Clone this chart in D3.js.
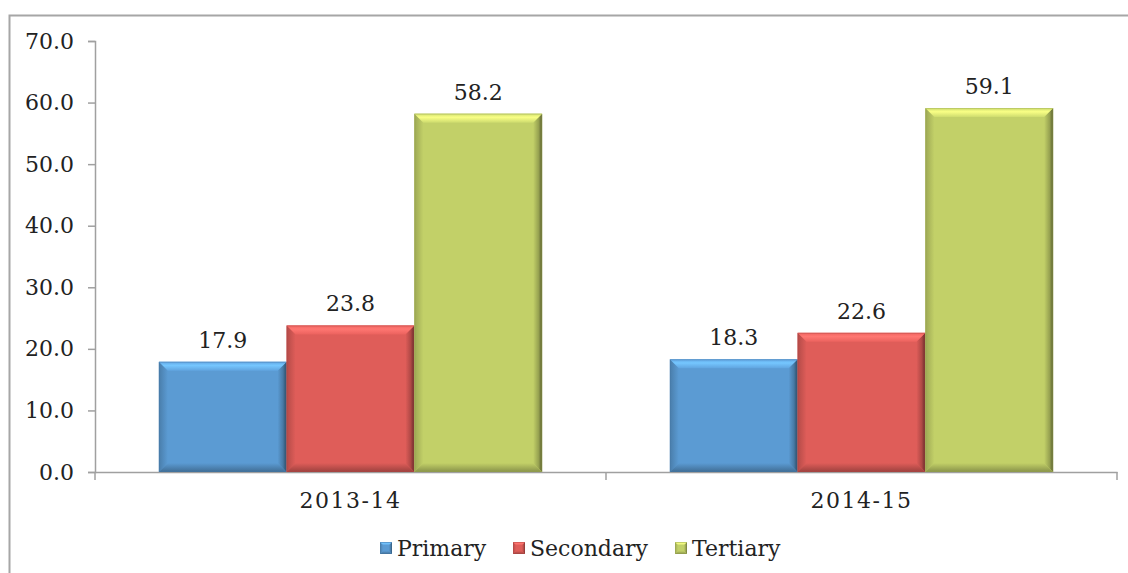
<!DOCTYPE html>
<html>
<head>
<meta charset="utf-8">
<script src="https://cdn.jsdelivr.net/npm/d3@7"></script>
<style>
  body { margin: 0; background: #fff; }
  text { font-family: "DejaVu Serif", serif; fill: #222; }
</style>
</head>
<body>
<script>
// data
var categories = ["2013-14", "2014-15"]
var seriesNames = ["Primary", "Secondary", "Tertiary"]
var primary = [17.9, 18.3]
var secondary = [23.8, 22.6]
var tertiary = [58.2, 59.1]
var yTicks = [0, 10, 20, 30, 40, 50, 60, 70]
var colors = ["#5b9bd3", "#df5d59", "#c2d068"]

var width = 1128
var height = 573
var margin = { top: 41, bottom: 101, left: 95, right: 11 }

var svg = d3.select("body").append("svg")
  .attr("width", width)
  .attr("height", height)

var defs = svg.append("defs")

// gradients for bevel faces
colors.forEach(function (col, j) {
  var c = d3.color(col)
  var top = defs.append("linearGradient").attr("id", "top" + j)
    .attr("x1", 0).attr("y1", 0).attr("x2", 0).attr("y2", 1)
  top.append("stop").attr("offset", "0%").attr("stop-color", c.brighter(0.2))
  top.append("stop").attr("offset", "40%").attr("stop-color", c.brighter(0.7))
  top.append("stop").attr("offset", "100%").attr("stop-color", c.brighter(0.15))
  var right = defs.append("linearGradient").attr("id", "right" + j)
    .attr("x1", 0).attr("y1", 0).attr("x2", 1).attr("y2", 0)
  right.append("stop").attr("offset", "0%").attr("stop-color", c)
  right.append("stop").attr("offset", "60%").attr("stop-color", c.darker(0.7))
  right.append("stop").attr("offset", "100%").attr("stop-color", c.darker(2.2))
  var left = defs.append("linearGradient").attr("id", "left" + j)
    .attr("x1", 0).attr("y1", 0).attr("x2", 1).attr("y2", 0)
  left.append("stop").attr("offset", "0%").attr("stop-color", c.darker(0.6))
  left.append("stop").attr("offset", "100%").attr("stop-color", c)
  var bottom = defs.append("linearGradient").attr("id", "bottom" + j)
    .attr("x1", 0).attr("y1", 0).attr("x2", 0).attr("y2", 1)
  bottom.append("stop").attr("offset", "0%").attr("stop-color", c)
  bottom.append("stop").attr("offset", "100%").attr("stop-color", c.darker(1))
})

// chart border
svg.append("rect")
  .attr("x", 9.5).attr("y", 15.5)
  .attr("width", 1130).attr("height", 600)
  .attr("fill", "none")
  .attr("stroke", "#a6a6a6")
  .attr("stroke-width", 2)

var y = d3.scaleLinear()
  .domain([0, 70])
  .range([height - margin.bottom, margin.top])

var x0 = d3.scaleBand()
  .domain(categories)
  .range([margin.left, width - margin.right])
  .paddingInner(0.25)
  .paddingOuter(0.125)

var x1 = d3.scaleBand()
  .domain(seriesNames)
  .range([0, x0.bandwidth()])

var rows = categories.map(function (c, i) {
  return { cat: c, values: [primary[i], secondary[i], tertiary[i]] }
})

// bevelled box
function bevel(g, x, yy, w, h, j, b) {
  var c = d3.color(colors[j])
  g.append("rect").attr("x", x).attr("y", yy).attr("width", w).attr("height", h)
    .attr("fill", colors[j])
  b = Math.min(b, h / 2)
  var faces = [
    { pts: [[x, yy], [x + b, yy + b], [x + b, yy + h - b], [x, yy + h]], fill: "url(#left" + j + ")" },
    { pts: [[x + w, yy], [x + w, yy + h], [x + w - b, yy + h - b], [x + w - b, yy + b]], fill: "url(#right" + j + ")" },
    { pts: [[x, yy + h], [x + w, yy + h], [x + w - b, yy + h - b], [x + b, yy + h - b]], fill: "url(#bottom" + j + ")" },
    { pts: [[x, yy], [x + w, yy], [x + w - b, yy + b], [x + b, yy + b]], fill: "url(#top" + j + ")" }
  ]
  faces.forEach(function (f) {
    g.append("polygon")
      .attr("points", f.pts.map(function (p) { return p.join(",") }).join(" "))
      .attr("fill", f.fill)
  })
  g.append("rect").attr("x", x + 0.5).attr("y", yy + 0.5).attr("width", w - 1).attr("height", h - 1)
    .attr("fill", "none").attr("stroke", c.darker(0.7)).attr("stroke-opacity", 0.4)
}

// y axis
var ejeY = d3.axisLeft(y).tickValues(yTicks).tickFormat(d3.format(".1f")).tickSize(7).tickPadding(14)
var gy = svg.append("g")
  .attr("transform", "translate(" + margin.left + ",0)")
  .call(ejeY)
gy.select(".domain").attr("stroke", "#a0a0a0").attr("stroke-width", 1.5)
gy.selectAll(".tick line").attr("stroke", "#a0a0a0").attr("stroke-width", 1.5)
gy.selectAll("text").attr("font-size", 22).attr("fill", "#222")

// x axis
var ejeX = d3.axisBottom(x0).tickSize(0).tickPadding(20)
var gx = svg.append("g")
  .attr("transform", "translate(0," + y(0) + ")")
  .call(ejeX)
gx.select(".domain").attr("stroke", "#a0a0a0").attr("stroke-width", 1.5)
gx.selectAll("text").attr("font-size", 22).attr("fill", "#222").attr("letter-spacing", 1.5)

// category dividers
var step = x0.step()
var dividers = [margin.left].concat(categories.map(function (c) { return x0(c) - x0.paddingOuter() * step + step }))
svg.selectAll(".div").data(dividers).enter().append("line")
  .attr("x1", d => d).attr("x2", d => d)
  .attr("y1", y(0)).attr("y2", y(0) + 8)
  .attr("stroke", "#a0a0a0").attr("stroke-width", 1.5)

// bars
rows.forEach(function (r) {
  var g = svg.append("g")
  r.values.forEach(function (v, j) {
    var bx = x0(r.cat) + x1(seriesNames[j])
    bevel(g, bx, y(v), x1.bandwidth(), y(0) - y(v), j, 9)
    g.append("text")
      .attr("x", bx + x1.bandwidth() / 2)
      .attr("y", y(v) - 14)
      .attr("text-anchor", "middle")
      .attr("font-size", 22)
      .text(d3.format(".1f")(v))
  })
})

// legend
var legendX = [380, 513, 675]
seriesNames.forEach(function (s, j) {
  var lg = svg.append("g")
  bevel(lg, legendX[j], 542, 12, 12, j, 3)
  lg.append("text")
    .attr("x", legendX[j] + 17)
    .attr("y", 556)
    .attr("font-size", 22)
    .text(s)
})
</script>
</body>
</html>
